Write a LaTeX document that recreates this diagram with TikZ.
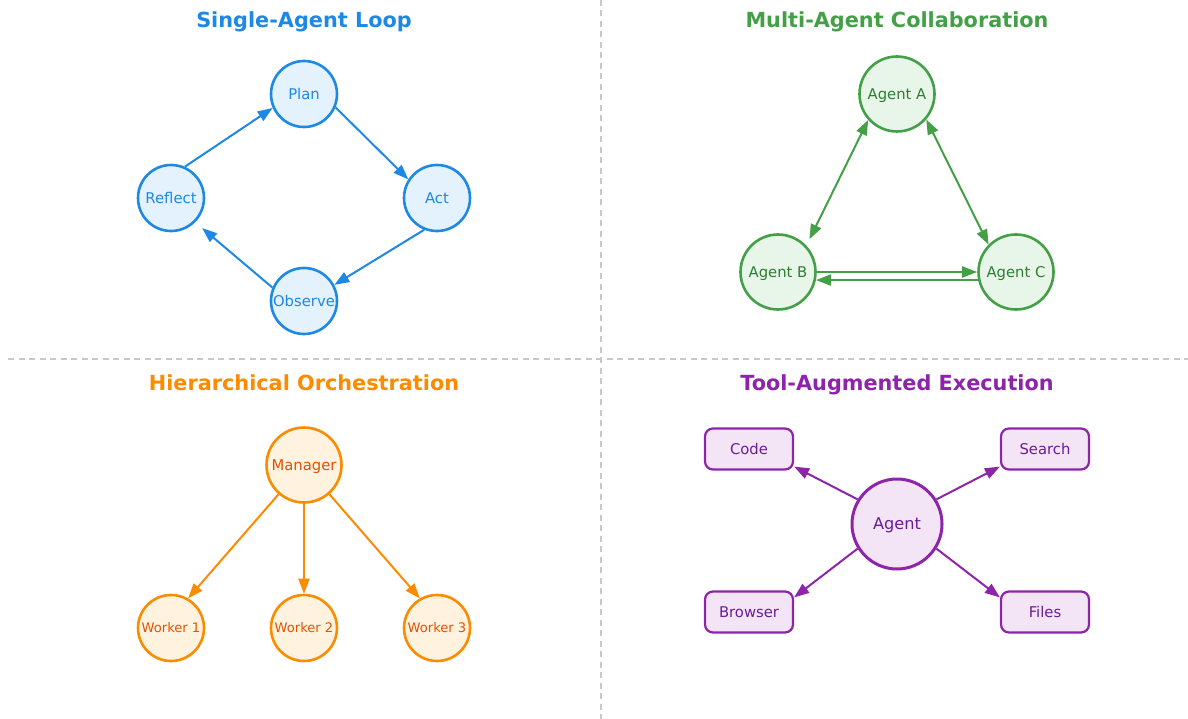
\documentclass[tikz,border=0pt]{standalone}
\usepackage{fontspec}
\setmainfont{DejaVu Sans}
\usetikzlibrary{arrows.meta}
\definecolor{bluel}{HTML}{1E88E5}\definecolor{bluef}{HTML}{E3F2FD}
\definecolor{greenl}{HTML}{43A047}\definecolor{greenf}{HTML}{E8F5E9}\definecolor{greent}{HTML}{2E7D32}
\definecolor{orangel}{HTML}{FB8C00}\definecolor{orangef}{HTML}{FFF3E0}\definecolor{oranget}{HTML}{E65100}
\definecolor{purplel}{HTML}{8E24AA}\definecolor{purplef}{HTML}{F3E5F5}\definecolor{purplet}{HTML}{6A1B9A}
\definecolor{divider}{HTML}{C8C8C8}
% text boxes are given the cap height only, so labels centre on their capitals
\tikzset{
  fs/.style={font=\fontsize{#1}{#1}\selectfont, text height=0.729*#1 pt, text depth=0pt},
  title/.style={fs=20.8, font=\fontsize{20.8}{24}\selectfont\bfseries, anchor=center},
  disc/.style={circle, draw, line width=2.6pt, inner sep=0pt, minimum size=#1, fs=14.8},
  toolbox/.style={rectangle, rounded corners=8pt, draw=purplel, fill=purplef, text=purplet, line width=2.2pt,
    minimum width=88pt, minimum height=41pt, inner sep=0pt, fs=14.8},
  link/.style={line width=2pt, -{Triangle[length=15pt,width=11pt]}},
  link2/.style={line width=2pt, {Triangle[length=15pt,width=11pt]}-{Triangle[length=15pt,width=11pt]}},
  sep/.style={draw=divider, line width=1.5pt, dash pattern=on 6pt off 4.5pt},
}
\begin{document}
\begin{tikzpicture}[x=1pt, y=-1pt]
\useasboundingbox (0,0) rectangle (1188,719);

% quadrant dividers
\coordinate (vt) at (601,0); \coordinate (vb) at (601,719);
\coordinate (hl) at (8,359); \coordinate (hr) at (1188,359);
\draw[sep] (vt) -- (vb);
\draw[sep] (hl) -- (hr);

% ---- single agent loop ----
\node[title, text=bluel] (t1) at (304,20) {Single-Agent Loop};
\begin{scope}[every node/.style={disc=66pt, draw=bluel, fill=bluef, text=bluel}]
  \node (plan) at (304,94) {Plan};
  \node (act) at (437,198) {Act};
  \node (obs) at (304,301) {Observe};
  \node (refl) at (171,198) {Reflect};
\end{scope}
\begin{scope}[bluel]
  \draw[link] (refl.66) -- (plan.204);
  \draw[link] (plan.-23) -- (act.147);
  \draw[link] (act.248) -- (obs.28);
  \draw[link, shorten >=9pt] (obs.157) -- (refl.-45);
\end{scope}

% ---- multi-agent collaboration ----
\node[title, text=greenl] (t2) at (897,20) {Multi-Agent Collaboration};
\begin{scope}[every node/.style={disc=75pt, draw=greenl, fill=greenf, text=greent}]
  \node (aa) at (897,94) {Agent A};
  \node (ab) at (778,272) {Agent B};
  \node (ac) at (1016,272) {Agent C};
\end{scope}
\begin{scope}[greenl]
  \draw[link2, shorten >=7pt] (aa.222) -- (ab.43);
  \draw[link2] (aa.319) -- (ac.135);
  \draw[link] (ab.east) -- (ac.west);
  \draw[link] (ac.192) -- (ab.-12);
\end{scope}

% ---- hierarchical orchestration ----
\node[title, text=orangel] (t3) at (304,383) {Hierarchical Orchestration};
\node[disc=75pt, draw=orangel, fill=orangef, text=oranget] (mgr) at (304,465) {Manager};
\begin{scope}[every node/.style={disc=66pt, draw=orangel, fill=orangef, text=oranget, fs=13.1}]
  \node (w1) at (171,628) {Worker 1};
  \node (w2) at (304,628) {Worker 2};
  \node (w3) at (437,628) {Worker 3};
\end{scope}
\begin{scope}[orangel]
  \draw[link] (mgr.229) -- (w1.60);
  \draw[link] (mgr.south) -- (w2.north);
  \draw[link] (mgr.311) -- (w3.120);
\end{scope}

% ---- tool-augmented execution ----
\node[title, text=purplel] (t4) at (897,383) {Tool-Augmented Execution};
\node[disc=90pt, draw=purplel, fill=purplef, text=purplet, fs=16.2, line width=3pt] (ag) at (897,524) {Agent};
\node[toolbox] (code) at (749,449) {Code};
\node[toolbox] (search) at (1045,449) {Search};
\node[toolbox] (browser) at (749,612) {Browser};
\node[toolbox] (files) at (1045,612) {Files};
\begin{scope}[purplel]
  \draw[link] (ag.148) -- ([yshift=4pt]code.south east);
  \draw[link] (ag.32) -- ([yshift=4pt]search.south west);
  \draw[link] (ag.212) -- ([yshift=-7pt]browser.north east);
  \draw[link] (ag.328) -- ([yshift=-7pt]files.north west);
\end{scope}
\end{tikzpicture}
\end{document}
